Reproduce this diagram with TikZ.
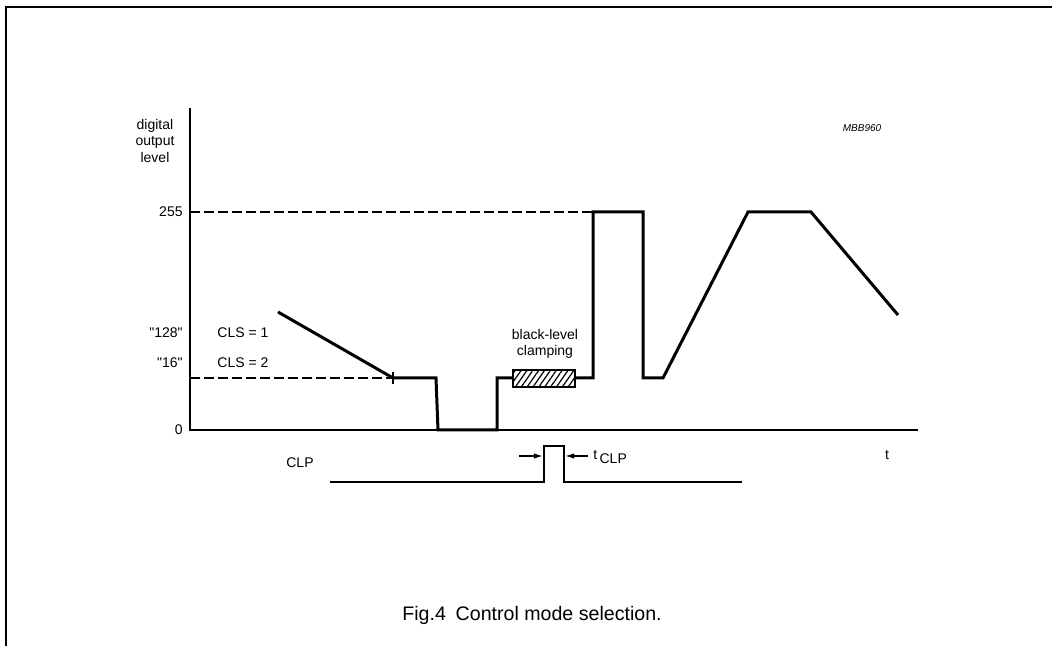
\documentclass[tikz,border=0pt]{standalone}
\usepackage{fontspec}
\setmainfont{Liberation Sans}[Ligatures=TeXOff]
\usetikzlibrary{arrows.meta,patterns.meta}
\tikzset{
  lbl/.style={font=\fontsize{7}{8.2}\selectfont, inner sep=0pt},
  sig/.style={line width=1.5pt},
  lvl/.style={line width=0.7pt, dash pattern=on 5pt off 2pt},
  dim/.style={line width=0.7pt, -{Latex[length=4.5pt,width=2.8pt]}, shorten >=0.6pt},
}
\begin{document}
\begin{tikzpicture}[x=5pt,y=5pt]
    \useasboundingbox (-19,-21.6) rectangle (86.2,43);
    \draw [line width=1pt] (-18.4,-21.6) -- (-18.4,42.3) -- (86.2,42.3);
    \draw [line width=1pt] (0,32.2) -- (0,0) -- (72.8,0);
    \draw [lvl] (0,21.8) -- (40.3,21.8);
    \draw [lvl] (0,5.2) -- (20.3,5.2);

    \draw [sig] (8.8,11.8) -- (20.3,5.2);
    \draw [line width=0.6pt] (20.3,4.6) -- (20.3,5.8);
    \draw [sig] (20.3,5.2) -- (24.6,5.2) -- (24.8,0) -- (30.7,0) -- (30.7,5.2) -- (32.3,5.2);
    \draw [line width=1pt, pattern={Lines[angle=55,distance=2.4pt,line width=0.6pt]}]
        (32.3,4.3) rectangle (38.5,6.0);
    \draw [sig] (38.5,5.2) -- (40.3,5.2) -- (40.3,21.8) -- (45.3,21.8) -- (45.3,5.2)
        -- (47.3,5.2) -- (55.8,21.8) -- (62.1,21.8) -- (70.8,11.5);

    \draw [line width=1.3pt] (14,-5.2) -- (35.4,-5.2) -- (35.4,-1.6) -- (37.4,-1.6)
        -- (37.4,-5.2) -- (55.2,-5.2);
    \coordinate (pl) at (35.4,-2.6);
    \coordinate (pr) at (37.4,-2.6);
    \coordinate (al) at (32.9,-2.6);
    \coordinate (ar) at (39.8,-2.6);
    \draw [dim] (al) -- (pl);
    \draw [dim] (ar) -- (pr);

    \node [lbl, align=center] (ylab) at (-3.5,28.9) {digital\\output\\level};
    \foreach \y/\n/\v in {21.8/l255/255, 9.7/l128/"128", 6.7/l16/"16", 0/l0/0}
        {\node [lbl, anchor=east] (\n) at (-0.7,\y) {\v};}
    \foreach \y/\n/\v in {9.7/cls1/1, 6.7/cls2/2}
        {\node [lbl, anchor=west] (\n) at (2.7,\y) {CLS = \v};}
    \node [lbl, align=center] (blc) at (35.5,8.6) {black-level\\clamping};
    \node [font=\fontsize{5}{6}\selectfont\itshape, inner sep=0pt] (code) at (67.2,30.2) {MBB960};
    \node [lbl] (taxis) at (69.7,-2.5) {t};
    \node [lbl] (clp) at (11,-3.3) {CLP};
    \node [lbl, anchor=west] (tclp) at (40.3,-2.7) {\raisebox{0.45ex}{t}\,CLP};
    \node [font=\fontsize{9.8}{11}\selectfont, inner sep=0pt] (cap) at (34.2,-18.5)
        {Fig.4\enspace Control mode selection.};
\end{tikzpicture}
\end{document}
